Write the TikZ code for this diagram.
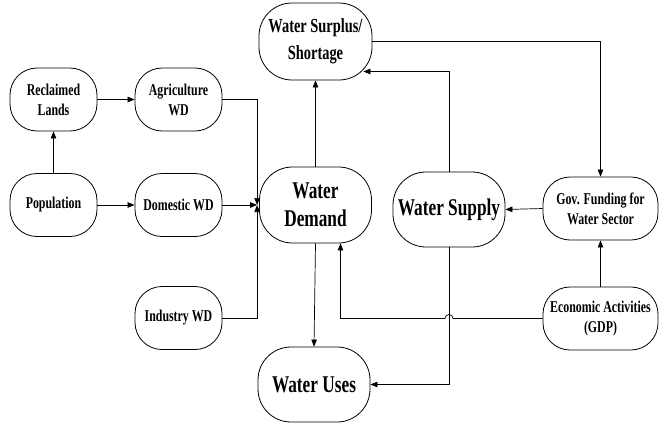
\documentclass[tikz,border=0pt]{standalone}
\usepackage{fontspec}
\newfontfamily\tnr{Liberation Serif}[FakeStretch=0.72,BoldFont={Liberation Serif Bold}]
\usetikzlibrary{arrows.meta}
\begin{document}
\begin{tikzpicture}[x=1pt,y=-1pt,
  box/.style={draw,line width=0.8pt,rounded corners=27pt,align=center,inner sep=0pt,
    font=\tnr\fontsize{16.5}{20}\selectfont\bfseries,minimum width=87pt,minimum height=63pt},
  bigbox/.style={box,rounded corners=33pt,font=\tnr\fontsize{24}{28}\selectfont\bfseries,
    minimum width=112pt,minimum height=76pt},
  arr/.style={line width=0.7pt,-{Triangle[length=7pt,width=5.5pt]}},
  ln/.style={line width=0.7pt}]
\useasboundingbox (0,0) rectangle (660,423);
\node[box] (recl) at (53.5,99.5) {Reclaimed\\Lands};
\node[box] (agri) at (178.5,99.5) {Agriculture\\WD};
\node[box] (pop) at (53.5,205) {Population};
\node[box] (dom) at (178.5,205) {Domestic WD};
\node[box] (ind) at (178.5,318) {Industry WD};
\node[bigbox] (demand) at (315.5,205) {Water\\Demand};
\node[bigbox,font=\tnr\fontsize{20}{27}\selectfont\bfseries,minimum width=113pt,minimum height=77pt] (surplus) at (315.5,41.5) {Water Surplus/\\Shortage};
\node[bigbox,minimum height=75pt] (supply) at (449,209.5) {Water Supply};
\node[bigbox,minimum height=75pt] (uses) at (314,384.5) {Water Uses};
\node[box,minimum width=115pt] (gov) at (600.5,208.5) {Gov. Funding for\\Water Sector};
\node[box,minimum width=115pt] (econ) at (600.5,318.5) {Economic Activities\\(GDP)};
\coordinate (dw) at ([xshift=-2pt]demand.west);
\coordinate (surin) at ([xshift=-9pt,yshift=-30pt]surplus.east);
\draw[arr] (recl) -- (agri);
\draw[arr] (pop) -- (recl);
\draw[arr] (pop) -- (dom);
\draw[arr] (agri.east) -| (dw);
\draw[arr] (dom.east) -- (dw);
\draw[arr] (ind.east) -| (dw);
\draw[arr] (demand.north) -- (surplus.south);
\draw[arr] (demand.south) -- (uses.north);
\draw[arr] (supply.north) |- (surin);
\draw[arr] (supply.south) |- (uses.east);
\draw[arr] (gov.west) -- (supply.east);
\draw[arr] (econ.north) -- (gov.south);
\draw[arr] (surplus.east) -| (gov.north);
\draw[arr] (econ.west) -- ([xshift=4pt]supply.south |- econ.west) arc[start angle=0,end angle=180,radius=4pt] -| ([xshift=25pt]demand.south);
\end{tikzpicture}
\end{document}
